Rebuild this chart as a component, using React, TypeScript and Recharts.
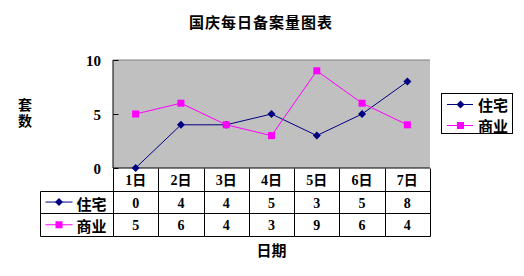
import React from 'react';
import { LineChart, Line, XAxis, YAxis, CartesianGrid, ReferenceLine, Legend, Label } from 'recharts';

const days = ['1日', '2日', '3日', '4日', '5日', '6日', '7日'];
const residential = [0, 4, 4, 5, 3, 5, 8];
const commercial = [5, 6, 4, 3, 9, 6, 4];
const yTicks = [0, 5, 10];
const seriesNames = ['住宅', '商业'];
const seriesColors = ['#000080', '#FF00FF'];
const title = '国庆每日备案量图表';
const xTitle = '日期';
const yTitle = '套数';

const data = days.map((d, i) => ({ day: d, res: residential[i], com: commercial[i] }));
const seriesValues = [residential, commercial];

const FONT = '"Liberation Serif", "Noto Sans CJK SC", serif';
const CJK = '"Noto Sans CJK SC", sans-serif';

const px = (v: number) => Math.round(v) + 0.5;

const markerShape = (k: number, cx: number, cy: number) =>
  k === 0 ? (
    <path d={`M${cx},${cy - 4}L${cx + 4},${cy}L${cx},${cy + 4}L${cx - 4},${cy}Z`} fill={seriesColors[0]} />
  ) : (
    <rect x={cx - 3.5} y={cy - 3.5} width={7} height={7} fill={seriesColors[1]} />
  );

const makeDot = (k: number) => (props: any) => {
  const { cx, cy, index } = props;
  if (cx == null || cy == null) return <g key={index} />;
  return <g key={`d${k}-${index}`}>{markerShape(k, cx, cy)}</g>;
};

const TableTick = (props: any) => {
  const { x, y, payload, width } = props;
  const n = days.length;
  const i = payload.index ?? props.index;
  const half = width / (2 * n);
  const rowH = 22.7;
  const left = px(x - half);
  const right = px(x + half);
  const top = px(y);
  const r1 = px(y + rowH);
  const r2 = px(y + rowH * 2);
  const r3 = px(y + rowH * 3);
  const labelW = 73;
  const tl = px(x - half - labelW);
  return (
    <g>
      <line x1={right} y1={top} x2={right} y2={r3} stroke="#000" />
      <line x1={left} y1={r1} x2={right} y2={r1} stroke="#000" />
      <line x1={left} y1={r2} x2={right} y2={r2} stroke="#000" />
      <line x1={left} y1={r3} x2={right} y2={r3} stroke="#000" />
      <text x={x} y={y + rowH / 2 + 1} textAnchor="middle" dominantBaseline="central" fontFamily={FONT} fontWeight="bold" fontSize={14} fill="#000">
        {payload.value}
      </text>
      {seriesValues.map((vals, k) => (
        <text key={k} x={x} y={y + rowH * (k + 1.5) + 1} textAnchor="middle" dominantBaseline="central" fontFamily={FONT} fontWeight="bold" fontSize={14} fill="#000">
          {vals[i]}
        </text>
      ))}
      {i === 0 && (
        <g>
          <line x1={left} y1={top} x2={left} y2={r3} stroke="#000" />
          <line x1={tl} y1={r1} x2={left} y2={r1} stroke="#000" />
          <line x1={tl} y1={r2} x2={left} y2={r2} stroke="#000" />
          <line x1={tl} y1={r3} x2={left} y2={r3} stroke="#000" />
          <line x1={tl} y1={r1} x2={tl} y2={r3} stroke="#000" />
          {seriesNames.map((name, k) => {
            const cy = y + rowH * (k + 1.5);
            return (
              <g key={k}>
                <line x1={tl + 5} y1={cy} x2={tl + 32} y2={cy} stroke={seriesColors[k]} />
                {markerShape(k, tl + 18.5, cy)}
                <text x={tl + 36} y={cy + 1} dominantBaseline="central" fontFamily={CJK} fontWeight="bold" fontSize={15} fill="#000">
                  {name}
                </text>
              </g>
            );
          })}
        </g>
      )}
    </g>
  );
};

const YTick = (props: any) => {
  const { x, y, payload } = props;
  const ax = px(x + 12);
  return (
    <g>
      <line x1={ax} y1={px(y)} x2={ax + 5} y2={px(y)} stroke="#000" />
      <text x={x} y={y + 1} textAnchor="end" dominantBaseline="central" fontFamily={FONT} fontWeight="bold" fontSize={15} fill="#000">
        {payload.value}
      </text>
    </g>
  );
};

const LegendBox = () => (
  <div style={{ width: 70, height: 39, border: '1px solid #000', background: '#fff', position: 'relative' }}>
    <svg width={70} height={39} style={{ position: 'absolute', left: 0, top: 0, overflow: 'visible' }}>
      {seriesNames.map((name, k) => {
        const cy = 10.5 + k * 21;
        return (
          <g key={k}>
            <line x1={5} y1={cy} x2={31} y2={cy} stroke={seriesColors[k]} />
            {markerShape(k, 18.5, cy)}
            <text x={36} y={cy} dominantBaseline="central" fontFamily={CJK} fontWeight="bold" fontSize={15} fill="#000">
              {name}
            </text>
          </g>
        );
      })}
    </svg>
  </div>
);

export default function App() {
  return (
    <div style={{ position: 'absolute', left: 0, top: 0, width: 524, height: 276, background: '#fff' }}>
      <div
        style={{
          position: 'absolute',
          left: 0,
          top: 12,
          width: 522,
          textAlign: 'center',
          fontFamily: CJK,
          fontWeight: 'bold',
          fontSize: 15,
          lineHeight: '20px',
          letterSpacing: 1,
          color: '#000',
        }}
      >
        {title}
      </div>
      <div style={{ position: 'absolute', left: 0, top: 0 }}>
        <LineChart width={524} height={276} data={data} margin={{ top: 60, right: 94, bottom: 8, left: 40 }}>
          <CartesianGrid fill="#C0C0C0" horizontal={false} vertical={false} stroke="none" />
          <XAxis
            dataKey="day"
            scale="band"
            height={100}
            tickSize={0}
            tickMargin={0}
            tickLine={false}
            axisLine={{ stroke: '#000' }}
            tick={<TableTick />}
            interval={0}
          >
            <Label
              content={(p: any) => {
                const vb = p.viewBox || {};
                return (
                  <text x={vb.x + vb.width / 2} y={vb.y + 81} textAnchor="middle" dominantBaseline="central" fontFamily={CJK} fontWeight="bold" fontSize={15} fill="#000">
                    {xTitle}
                  </text>
                );
              }}
            />
          </XAxis>
          <YAxis
            domain={[0, 10]}
            ticks={yTicks}
            width={73}
            tickSize={0}
            tickMargin={12}
            tickLine={false}
            axisLine={{ stroke: '#000' }}
            tick={<YTick />}
            interval={0}
          >
            <Label
              content={(p: any) => {
                const vb = p.viewBox || {};
                const cy = vb.y + vb.height / 2;
                return (
                  <text
                    x={25}
                    y={cy}
                    textAnchor="middle"
                    style={{ writingMode: 'vertical-rl', letterSpacing: 2 }}
                    fontFamily={CJK}
                    fontWeight="bold"
                    fontSize={14}
                    fill="#000"
                  >
                    {yTitle}
                  </text>
                );
              }}
            />
          </YAxis>
          <YAxis yAxisId="right" orientation="right" width={0} domain={[0, 10]} tick={false} tickLine={false} axisLine={{ stroke: '#808080' }} />
          <ReferenceLine y={10} stroke="#808080" ifOverflow="visible" />
          <Legend
            layout="horizontal"
            align="center"
            verticalAlign="middle"
            wrapperStyle={{ position: 'absolute', left: 441, top: 93, width: 72, height: 41 }}
            content={() => <LegendBox />}
          />
          <Line type="linear" dataKey="res" name={seriesNames[0]} stroke={seriesColors[0]} strokeWidth={1} dot={makeDot(0)} activeDot={false} isAnimationActive={false} />
          <Line type="linear" dataKey="com" name={seriesNames[1]} stroke={seriesColors[1]} strokeWidth={1} dot={makeDot(1)} activeDot={false} isAnimationActive={false} />
        </LineChart>
      </div>
    </div>
  );
}
